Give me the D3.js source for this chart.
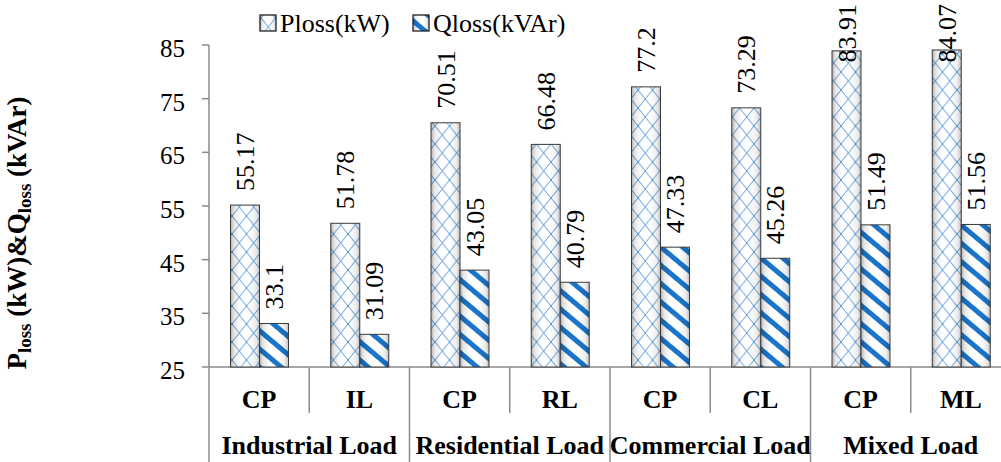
<!DOCTYPE html>
<html>
<head>
<meta charset="utf-8">
<script src="https://cdn.jsdelivr.net/npm/d3@7"></script>
<style>
  html, body { margin: 0; padding: 0; background: #fff; }
  svg { display: block; }
</style>
</head>
<body>
<svg id="chart" width="1001" height="462" font-family="'Liberation Serif', 'Times New Roman', Times, 'DejaVu Serif', serif"></svg>
<script>
// Power losses per load model
const groups = ["Industrial Load", "Residential Load", "Commercial Load", "Mixed Load"];
const categories = ["CP", "IL", "CP", "RL", "CP", "CL", "CP", "ML"];
const seriesNames = ["Ploss(kW)", "Qloss(kVAr)"];
const ploss = [55.17, 51.78, 70.51, 66.48, 77.2, 73.29, 83.91, 84.07];
const qloss = [33.1, 31.09, 43.05, 40.79, 47.33, 45.26, 51.49, 51.56];
const yTicks = [25, 35, 45, 55, 65, 75, 85];

const svg = d3.select("#chart");
const serif = "'Liberation Serif', 'Times New Roman', Times, 'DejaVu Serif', serif";
const axisColor = "#8a8a8a";
const blue = "#3a8ad6";

const x = d3.scaleBand().domain(d3.range(categories.length)).range([209, 1011]);
const xs = d3.scaleBand().domain([0, 1]).range([21.5, 79.5]);
const y = d3.scaleLinear().domain([25, 85]).range([367, 45]);

// ---- pattern and shading definitions ----
const defs = svg.append("defs");

const shade = defs.append("linearGradient").attr("id", "shade")
  .attr("x1", "0%").attr("x2", "100%").attr("y1", "0%").attr("y2", "0%");
[[0, 0.3], [0.12, 0.1], [0.35, 0.0], [0.65, 0.0], [0.88, 0.08], [1, 0.25]].forEach(([o, a]) =>
  shade.append("stop").attr("offset", o).attr("stop-color", "#000").attr("stop-opacity", a));

const hatch = defs.append("pattern").attr("id", "hatch")
  .attr("patternUnits", "userSpaceOnUse").attr("width", 14.5).attr("height", 18);
hatch.append("path").attr("d", "M0,0L14.5,18M14.5,0L0,18")
  .attr("stroke", blue).attr("stroke-width", 0.9).attr("fill", "none");

const stripes = defs.append("pattern").attr("id", "stripes")
  .attr("patternUnits", "userSpaceOnUse").attr("width", 20).attr("height", 14)
  .attr("patternTransform", "rotate(40)");
stripes.append("rect").attr("x", 0).attr("y", 0).attr("width", 20).attr("height", 5)
  .attr("fill", "#1a75cc");

const fills = ["url(#hatch)", "url(#stripes)"];

// ---- axes ----
svg.append("line").attr("x1", 209).attr("x2", 209).attr("y1", y(85)).attr("y2", y(25))
  .attr("stroke", axisColor).attr("stroke-width", 1.5);

const yt = svg.append("g");
yt.selectAll("line").data(yTicks).join("line")
  .attr("x1", 202).attr("x2", 209).attr("y1", d => y(d)).attr("y2", d => y(d))
  .attr("stroke", axisColor).attr("stroke-width", 1.5);
yt.selectAll("text").data(yTicks).join("text")
  .attr("x", 185).attr("y", d => y(d) + 12).attr("text-anchor", "end")
  .attr("font-family", serif).attr("font-size", 25).text(d => d);

svg.append("line").attr("x1", 209).attr("x2", 1011).attr("y1", y(25)).attr("y2", y(25))
  .attr("stroke", axisColor).attr("stroke-width", 1.5);

// category separators: inner ones short, group boundaries full height
const bounds = d3.range(categories.length + 1).map(i => i === categories.length ? x.range()[1] : x(i));
svg.append("g").selectAll("line").data(bounds).join("line")
  .attr("x1", d => d).attr("x2", d => d)
  .attr("y1", y(25)).attr("y2", (d, i) => i % 2 === 0 ? 462 : 413)
  .attr("stroke", axisColor).attr("stroke-width", 1.5);

svg.append("g").selectAll("text").data(categories).join("text")
  .attr("x", (d, i) => x(i) + x.bandwidth() / 2).attr("y", 408)
  .attr("text-anchor", "middle").attr("font-family", serif).attr("font-size", 26)
  .attr("font-weight", "bold").text(d => d);

svg.append("g").selectAll("text").data(groups).join("text")
  .attr("x", (d, i) => x(i * 2) + x.bandwidth()).attr("y", 454)
  .attr("text-anchor", "middle").attr("font-family", serif).attr("font-size", 26)
  .attr("font-weight", "bold").text(d => d);

// ---- bars ----
const series = [ploss, qloss];
const bars = svg.append("g");
series.forEach((vals, s) => {
  const g = bars.append("g");
  const bx = i => x(i) + xs(s);
  const w = xs.bandwidth();
  ["base", "pat", "shade"].forEach(layer => {
    g.selectAll("rect." + layer).data(vals).join("rect").attr("class", layer)
      .attr("x", (d, i) => bx(i)).attr("width", w)
      .attr("y", d => y(d)).attr("height", d => y(25) - y(d))
      .attr("fill", layer === "base" ? "#fff" : layer === "pat" ? fills[s] : "url(#shade)");
  });
  g.selectAll("rect.shade").attr("stroke", "#3a3a3a").attr("stroke-width", 1);
});

// ---- value labels, rotated, kept inside the top edge ----
const labels = svg.append("g");
series.forEach((vals, s) => {
  vals.forEach((v, i) => {
    const cx = x(i) + xs(s) + xs.bandwidth() / 2;
    const t = labels.append("text").attr("font-family", serif).attr("font-size", 26)
      .attr("text-anchor", "start").attr("dy", "0.35em").text(String(v));
    const len = t.node().getComputedTextLength();
    const bottom = Math.max(y(v) - 14, len + 4);
    t.attr("transform", `translate(${cx},${bottom}) rotate(-90)`);
  });
});

// ---- legend ----
const legend = svg.append("g");
const legendItems = [{ x: 260, label: seriesNames[0] }, { x: 413, label: seriesNames[1] }];
legendItems.forEach((it, s) => {
  ["#fff", fills[s], "url(#shade)"].forEach((f, k) => {
    const r = legend.append("rect").attr("x", it.x).attr("y", 15)
      .attr("width", 16).attr("height", 16).attr("fill", f);
    if (k === 2) r.attr("stroke", "#222").attr("stroke-width", 1.3);
  });
  legend.append("text").attr("x", it.x + 20).attr("y", 32)
    .attr("font-family", serif).attr("font-size", 26).text(it.label);
});

// ---- y axis title ----
const title = svg.append("text").attr("transform", "translate(26,233) rotate(-90)")
  .attr("text-anchor", "middle").attr("font-family", serif)
  .attr("font-size", 27).attr("font-weight", "bold");
title.append("tspan").text("P");
title.append("tspan").attr("font-size", 19).attr("dy", 5).text("loss");
title.append("tspan").attr("dy", -5).text(" (kW)&Q");
title.append("tspan").attr("font-size", 19).attr("dy", 5).text("loss");
title.append("tspan").attr("dy", -5).text(" (kVAr)");
</script>
</body>
</html>
